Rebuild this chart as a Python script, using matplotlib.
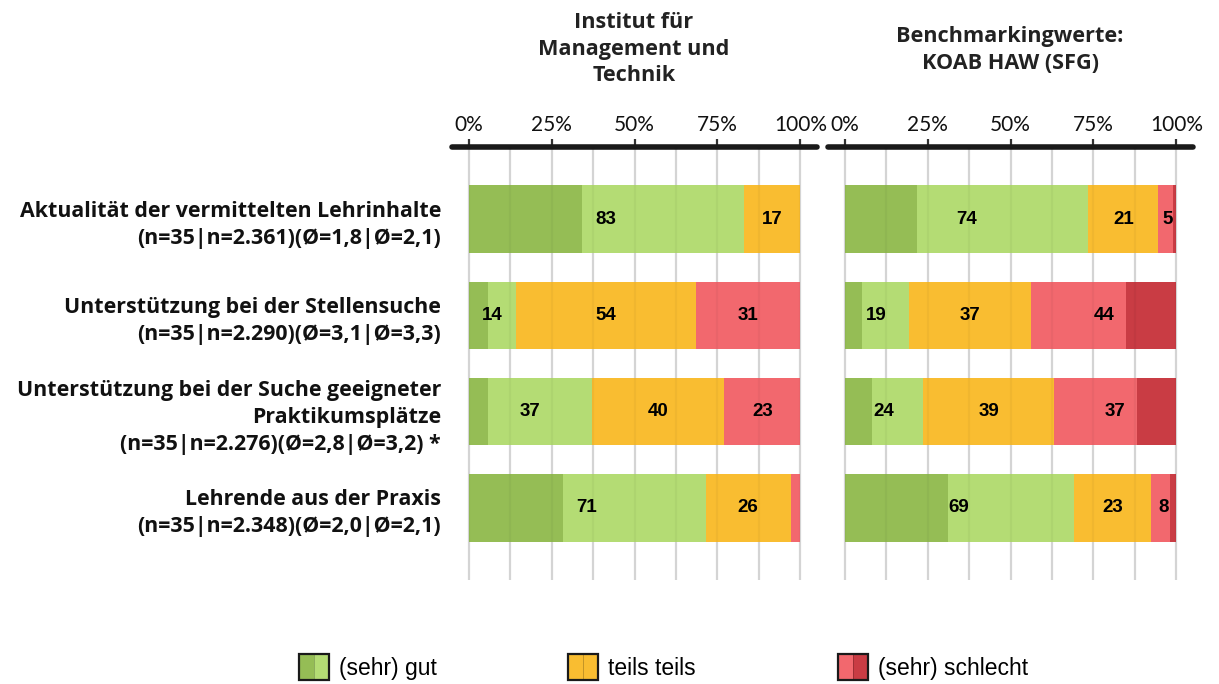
import matplotlib
matplotlib.use("Agg")
import matplotlib.pyplot as plt
from matplotlib.patches import Rectangle
from matplotlib.legend_handler import HandlerBase
import numpy as np

# categories (y axis labels)
categories = [
    "Aktualität der vermittelten Lehrinhalte\n(n=35|n=2.361)(Ø=1,8|Ø=2,1)",
    "Unterstützung bei der Stellensuche\n(n=35|n=2.290)(Ø=3,1|Ø=3,3)",
    "Unterstützung bei der Suche geeigneter\nPraktikumsplätze\n(n=35|n=2.276)(Ø=2,8|Ø=3,2) *",
    "Lehrende aus der Praxis\n(n=35|n=2.348)(Ø=2,0|Ø=2,1)",
]

# Institut für Management und Technik (percent)
inst_sehr_gut = [34.3, 5.7, 5.7, 28.6]
inst_gut = [48.6, 8.6, 31.4, 42.8]
inst_teils = [17.1, 54.3, 40.0, 25.7]
inst_schlecht = [0.0, 31.4, 22.9, 2.9]
inst_sehr_schlecht = [0.0, 0.0, 0.0, 0.0]

# Benchmark KOAB HAW (SFG) (percent)
bench_sehr_gut = [21.9, 5.2, 8.4, 31.2]
bench_gut = [51.6, 14.1, 15.3, 37.8]
bench_teils = [21.1, 36.9, 39.4, 23.4]
bench_schlecht = [4.3, 28.5, 25.1, 5.8]
bench_sehr_schlecht = [1.1, 15.3, 11.8, 1.8]

tick_vals = [0, 25, 50, 75, 100]
tick_labels = ["0%", "25%", "50%", "75%", "100%"]
legend_labels = ["(sehr) gut", "teils teils", "(sehr) schlecht"]

col_dgreen = "#95BD55"
col_lgreen = "#B4DC74"
col_orange = "#F9BD31"
col_lred = "#F2686E"
col_dred = "#C93C44"

BOLD_FONT = ["Open Sans", "DejaVu Sans"]
plt.rcParams["font.family"] = ["Lato", "DejaVu Sans"]

fig = plt.figure(figsize=(12.19, 6.84), dpi=100)
W, H = 1219, 684
bottom = 1 - 580 / H
height = (580 - 147) / H
ax_left = fig.add_axes([452 / W, bottom, 365 / W, height])
ax_right = fig.add_axes([828 / W, bottom, 365 / W, height])


def draw_panel(ax, parts, show_labels):
    y = np.arange(len(categories))
    left = np.zeros(len(categories))
    cols = [col_dgreen, col_lgreen, col_orange, col_lred, col_dred]
    for vals, c in zip(parts, cols):
        ax.barh(y, vals, left=left, height=0.7, color=c, edgecolor="none", zorder=2)
        left = left + np.array(vals)

    # grouped data labels: (sehr) gut | teils teils | (sehr) schlecht
    good = np.array(parts[0]) + np.array(parts[1])
    mid = np.array(parts[2])
    bad = np.array(parts[3]) + np.array(parts[4])
    for i in range(len(categories)):
        starts = [0, good[i], good[i] + mid[i]]
        for s, v in zip(starts, [good[i], mid[i], bad[i]]):
            if round(v) >= 5:
                ax.text(s + v / 2, y[i], f"{v:.0f}", ha="center", va="center",
                        family="Liberation Sans", fontweight="bold", fontsize=13.5,
                        color="black", zorder=4)

    for g in np.arange(0, 100.1, 12.5):
        ax.axvline(g, color="#dcdcdc", lw=1.6, zorder=1)
        ax.axvline(g, color="black", alpha=0.035, lw=1.6, zorder=3)

    ax.set_xlim(-5, 105)
    ax.set_ylim(3.75, -0.75)
    for s in ["left", "right", "bottom"]:
        ax.spines[s].set_visible(False)
    ax.spines["top"].set_linewidth(4)
    ax.spines["top"].set_color("#1a1a1a")
    ax.spines["top"].set_capstyle("round")
    ax.xaxis.tick_top()
    ax.set_xticks(tick_vals)
    ax.set_xticklabels(tick_labels)
    ax.tick_params(axis="x", length=5.5, width=1.6, color="#333333", pad=3,
                   labelsize=15, labelcolor="#111111")
    ax.set_yticks(np.arange(len(categories)))
    if show_labels:
        ax.set_yticklabels(categories, fontsize=15.4, fontweight="bold", color="#111111",
                           family=BOLD_FONT, linespacing=1.38)
        ax.tick_params(axis="y", length=0, pad=8)
    else:
        ax.set_yticklabels([])
        ax.tick_params(axis="y", length=0)


draw_panel(ax_left, [inst_sehr_gut, inst_gut, inst_teils, inst_schlecht, inst_sehr_schlecht], True)
draw_panel(ax_right, [bench_sehr_gut, bench_gut, bench_teils, bench_schlecht, bench_sehr_schlecht], False)

fig.text(634 / W, 1 - 49 / H, "Institut für\nManagement und\nTechnik", ha="center", va="center",
         fontsize=15.6, fontweight="bold", color="#222222", family=BOLD_FONT, linespacing=1.33)
fig.text(1010 / W, 1 - 50 / H, "Benchmarkingwerte:\nKOAB HAW (SFG)", ha="center", va="center",
         fontsize=15.6, fontweight="bold", color="#222222", family=BOLD_FONT, linespacing=1.33)


class SplitHandler(HandlerBase):
    def __init__(self, c1, c2):
        super().__init__()
        self.c1, self.c2 = c1, c2

    def create_artists(self, legend, orig_handle, xdescent, ydescent, width, height, fontsize, trans):
        x0, y0 = -xdescent, -ydescent
        r1 = Rectangle((x0, y0), width / 2, height, fc=self.c1, ec="none", transform=trans)
        r2 = Rectangle((x0 + width / 2, y0), width / 2, height, fc=self.c2, ec="none", transform=trans)
        mid = Rectangle((x0 + width / 2, y0), 0, height, fc="none", ec="#00000040", lw=0.6, transform=trans)
        border = Rectangle((x0, y0), width, height, fc="none", ec="#1a1a1a", lw=1.6, transform=trans)
        return [r1, r2, mid, border]


legend_colors = [(col_dgreen, col_lgreen), (col_orange, col_orange), (col_lred, col_dred)]
legend_x = [299, 568, 838]
for lab, (c1, c2), lx in zip(legend_labels, legend_colors, legend_x):
    h = Rectangle((0, 0), 1, 1)
    fig.legend([h], [lab], handler_map={h: SplitHandler(c1, c2)},
               loc="center left", bbox_to_anchor=(lx / W, 1 - 667 / H), frameon=False,
               prop={"family": "Liberation Sans", "size": 16.5}, handlelength=1.3,
               handleheight=1.35, handletextpad=0.45, borderpad=0, borderaxespad=0)

fig.savefig("out.png", dpi=100)
